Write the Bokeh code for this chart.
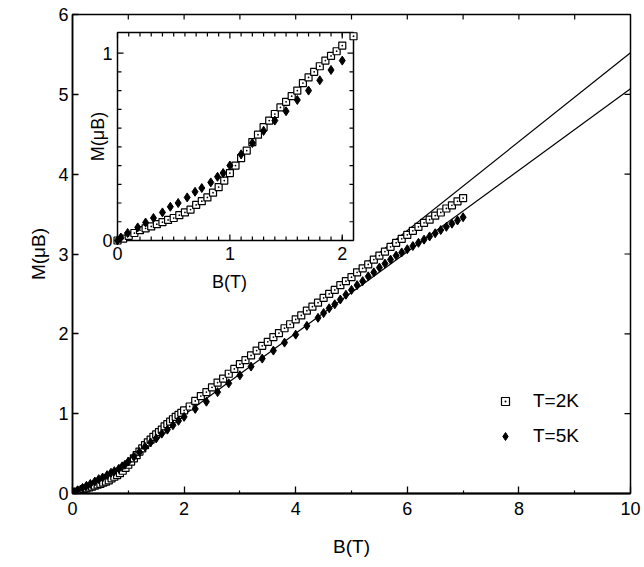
import numpy as np
from bokeh.plotting import figure
from bokeh.models import Range1d, FixedTicker, Legend, LegendItem
from bokeh.embed import file_html
from bokeh.resources import INLINE
from bokeh.core.properties import value

# ---------------------------------------------------------------------------
# Magnetization M (μB) versus applied field B (T)
# ---------------------------------------------------------------------------
# T = 2 K, low-field part (also shown in the inset)
b_2k_low = [0.00, 0.05, 0.10, 0.15, 0.20, 0.25, 0.30, 0.35, 0.40, 0.45,
            0.50, 0.55, 0.60, 0.65, 0.70, 0.75, 0.80, 0.85, 0.90, 0.95,
            1.00, 1.05, 1.10, 1.15, 1.20, 1.25, 1.30, 1.35, 1.40, 1.45,
            1.50, 1.55, 1.60, 1.65, 1.70, 1.75, 1.80, 1.85, 1.90, 1.95,
            2.00, 2.10]
m_2k_low = [0.000, 0.010, 0.025, 0.040, 0.055, 0.065, 0.075, 0.087, 0.098, 0.110,
            0.120, 0.135, 0.150, 0.165, 0.190, 0.210, 0.230, 0.255, 0.285, 0.320,
            0.360, 0.400, 0.440, 0.480, 0.525, 0.565, 0.605, 0.640, 0.675, 0.710,
            0.740, 0.770, 0.800, 0.840, 0.870, 0.900, 0.930, 0.960, 0.985, 1.010,
            1.040, 1.090]

# T = 2 K, high-field part
b_2k_high = [2.2, 2.3, 2.4, 2.5, 2.6, 2.7, 2.8, 2.9, 3.0,
             3.1, 3.2, 3.3, 3.4, 3.5, 3.6, 3.7, 3.8, 3.9, 4.0,
             4.1, 4.2, 4.3, 4.4, 4.5, 4.6, 4.7, 4.8, 4.9, 5.0,
             5.1, 5.2, 5.3, 5.4, 5.5, 5.6, 5.7, 5.8, 5.9, 6.0,
             6.1, 6.2, 6.3, 6.4, 6.5, 6.6, 6.7, 6.8, 6.9, 7.0]
m_2k_high = [1.16, 1.22, 1.27, 1.33, 1.39, 1.44, 1.50, 1.56, 1.62,
             1.67, 1.73, 1.79, 1.85, 1.90, 1.96, 2.01, 2.07, 2.12, 2.18,
             2.23, 2.29, 2.34, 2.39, 2.45, 2.50, 2.55, 2.61, 2.66, 2.71,
             2.77, 2.82, 2.87, 2.93, 2.98, 3.03, 3.09, 3.14, 3.19, 3.24,
             3.29, 3.34, 3.39, 3.43, 3.48, 3.52, 3.57, 3.61, 3.66, 3.70]

# T = 5 K, low-field part (also shown in the inset)
b_5k_low = [0.00, 0.03, 0.09, 0.18, 0.25, 0.32, 0.40, 0.47, 0.54, 0.62,
            0.69, 0.75, 0.83, 0.89, 0.94, 1.00, 1.10, 1.20, 1.30, 1.40,
            1.50, 1.60, 1.70, 1.80, 1.90, 2.00]
m_5k_low = [0.000, 0.016, 0.040, 0.070, 0.096, 0.120, 0.150, 0.180, 0.200, 0.230,
            0.260, 0.280, 0.310, 0.340, 0.360, 0.400, 0.460, 0.520, 0.585, 0.640,
            0.690, 0.750, 0.800, 0.855, 0.910, 0.960]

# T = 5 K, high-field part
b_5k_high = [2.2, 2.4, 2.6, 2.8, 3.0, 3.2, 3.4, 3.6, 3.8, 4.0, 4.2, 4.4,
             4.5, 4.6, 4.7, 4.8, 4.9, 5.0, 5.1, 5.2, 5.3, 5.4,
             5.5, 5.6, 5.7, 5.8, 5.9, 6.0, 6.1, 6.2, 6.3, 6.4,
             6.5, 6.6, 6.7, 6.8, 6.9, 7.0]
m_5k_high = [1.06, 1.15, 1.27, 1.38, 1.48, 1.59, 1.69, 1.79, 1.89, 1.99, 2.10, 2.20,
             2.26, 2.32, 2.37, 2.43, 2.49, 2.55, 2.61, 2.66, 2.72, 2.77,
             2.83, 2.88, 2.93, 2.98, 3.02, 3.06, 3.10, 3.14, 3.18, 3.22,
             3.26, 3.30, 3.34, 3.38, 3.42, 3.46]

# Linear high-field fits, extrapolated to 10 T
fit_b = [1.5, 10.0]
fit_2k = [0.79, 5.52]
fit_5k = [0.73, 5.07]

# Axis ticks
x_major = [0, 2, 4, 6, 8, 10]
x_minor = [1, 3, 5, 7, 9]
x_top = [1, 2, 3, 4, 5, 6, 7, 8, 9]
y_major = [0, 1, 2, 3, 4, 5, 6]
y_right = [1, 2, 3, 4, 5]

# Inset axes
inset_x_lim = [0.0, 2.1]
inset_y_lim = [0.0, 1.11]
inset_x_major = [0, 1, 2]
inset_x_minor = [0.1, 0.2, 0.3, 0.4, 0.5, 0.6, 0.7, 0.8, 0.9,
                 1.1, 1.2, 1.3, 1.4, 1.5, 1.6, 1.7, 1.8, 1.9, 2.0]
inset_y_major = [0, 1]
inset_y_minor = [0.1, 0.2, 0.3, 0.4, 0.5, 0.6, 0.7, 0.8, 0.9]

# ---------------------------------------------------------------------------
FONT = "Liberation Sans"
W, H = 644, 567
FL, FR, FT, FB = 72, 630, 14, 493          # main frame edges (px)
IL, IR, IT, IB = 117, 353, 32, 240         # inset box edges (px)

p = figure(width=W, height=H, x_range=Range1d(0, 10), y_range=Range1d(0, 6),
           output_backend="svg", toolbar_location=None,
           min_border_left=FL, min_border_right=W - FR,
           min_border_top=FT, min_border_bottom=H - FB)
p.xgrid.visible = False
p.ygrid.visible = False
p.outline_line_color = "black"
p.outline_line_width = 1.5
p.background_fill_color = "white"
p.border_fill_color = "white"

# bottom / left axes
xa = p.xaxis[0]
xa.ticker = FixedTicker(ticks=x_major, minor_ticks=x_minor)
ya = p.yaxis[0]
ya.ticker = FixedTicker(ticks=y_major)
for ax in (xa, ya):
    ax.axis_line_color = "black"
    ax.axis_line_width = 1.5
    ax.major_tick_line_color = "black"
    ax.major_tick_line_width = 1.3
    ax.major_tick_out = 0
    ax.minor_tick_out = 0
    ax.major_label_text_font = FONT
    ax.major_label_text_font_size = "18px"
    ax.major_label_text_color = "black"
    ax.axis_label_text_font = FONT
    ax.axis_label_text_font_size = "19px"
    ax.axis_label_text_font_style = "normal"
    ax.axis_label_text_color = "black"
xa.axis_line_width = 2
xa.major_tick_in = 7
xa.minor_tick_in = 3
xa.minor_tick_line_color = "black"
xa.minor_tick_line_width = 1.2
xa.major_label_standoff = 8
xa.axis_label = "B(T)"
xa.axis_label_standoff = 18
ya.major_tick_in = 6
ya.minor_tick_line_color = None
ya.major_label_standoff = 4
ya.axis_label = "M(μB)"
ya.axis_label_standoff = 6

# mirrored ticks along the top and right edges of the frame
p.ray(x=x_top, y=[6] * len(x_top), length=5, length_units="screen",
      angle=-np.pi / 2, line_color="black", line_width=1.2)
p.ray(x=[10] * len(y_right), y=y_right, length=6, length_units="screen",
      angle=np.pi, line_color="black", line_width=1.2)

# main data
b_2k = b_2k_low + b_2k_high
m_2k = m_2k_low + m_2k_high
b_5k = b_5k_low + b_5k_high
m_5k = m_5k_low + m_5k_high

p.line(fit_b, fit_2k, line_color="black", line_width=1.2)
p.line(fit_b, fit_5k, line_color="black", line_width=1.2)
r2 = p.scatter(b_2k, m_2k, marker="square_dot", size=7, line_color="black",
               fill_color="white", line_width=1.2)
r5 = p.scatter(b_5k, m_5k, marker="diamond", size=9, line_color="black",
               fill_color="black")

legend = Legend(items=[LegendItem(label="T=2K", renderers=[r2]),
                       LegendItem(label="T=5K", renderers=[r5])],
                location=(423, 46), orientation="vertical",
                border_line_color=None, background_fill_alpha=0,
                padding=0, margin=0, spacing=13,
                glyph_width=20, glyph_height=20, label_height=20,
                label_standoff=18, label_text_font=FONT,
                label_text_font_size="19px", label_text_color="black")
p.add_layout(legend, "center")

# ---------------------------------------------------------------------------
# Inset: the low-field region, drawn on its own ranges inside the frame
# ---------------------------------------------------------------------------
sx = (IR - IL) / (inset_x_lim[1] - inset_x_lim[0])     # px per tesla
sy = (IB - IT) / (inset_y_lim[1] - inset_y_lim[0])     # px per μB
ix0 = inset_x_lim[0] - (IL - FL) / sx
ix1 = inset_x_lim[1] + (FR - IR) / sx
iy0 = inset_y_lim[0] - (FB - IB) / sy
iy1 = inset_y_lim[1] + (IT - FT) / sy
p.extra_x_ranges = {"ix": Range1d(ix0, ix1)}
p.extra_y_ranges = {"iy": Range1d(iy0, iy1)}
ik = dict(x_range_name="ix", y_range_name="iy")

p.quad(left=[inset_x_lim[0]], right=[inset_x_lim[1]],
       bottom=[inset_y_lim[0]], top=[inset_y_lim[1]],
       fill_color="white", line_color="black", line_width=1.5, **ik)

def ticks(xs, ys, length, angle):
    p.ray(x=xs, y=ys, length=length, length_units="screen", angle=angle,
          line_color="black", line_width=1.2, **ik)

x0, x1 = inset_x_lim
y0, y1 = inset_y_lim
ticks(inset_x_major, [y0] * len(inset_x_major), 6, np.pi / 2)
ticks(inset_x_minor, [y0] * len(inset_x_minor), 4, np.pi / 2)
ticks(inset_x_major, [y1] * len(inset_x_major), 6, -np.pi / 2)
ticks(inset_x_minor, [y1] * len(inset_x_minor), 4, -np.pi / 2)
ticks([x0] * len(inset_y_major), inset_y_major, 6, 0)
ticks([x0] * len(inset_y_minor), inset_y_minor, 4, 0)
ticks([x1] * len(inset_y_major), inset_y_major, 6, np.pi)
ticks([x1] * len(inset_y_minor), inset_y_minor, 4, np.pi)

p.scatter(b_2k_low, m_2k_low, marker="square_dot", size=7, line_color="black",
          fill_color="white", line_width=1.2, **ik)
p.scatter(b_5k_low, m_5k_low, marker="diamond", size=9, line_color="black",
          fill_color="black", **ik)

txt = dict(text_font=value(FONT), text_font_size="18px", text_color="black", **ik)
p.text(x=inset_x_major, y=[y0 - 13 / sy] * len(inset_x_major),
       text=[str(t) for t in inset_x_major],
       text_align="center", text_baseline="middle", **txt)
p.text(x=[x0 - 5 / sx] * len(inset_y_major), y=inset_y_major,
       text=[str(t) for t in inset_y_major],
       text_align="right", text_baseline="middle", **txt)
p.text(x=[(x0 + x1) / 2 - 6 / sx], y=[y0 - 41 / sy], text=["B(T)"],
       text_align="center", text_baseline="middle", **txt)
p.text(x=[x0 - 20 / sx], y=[(y0 + y1) / 2], text=["M(μB)"], angle=np.pi / 2,
       text_align="center", text_baseline="middle", **txt)

open("out.html", "w").write(file_html(p, INLINE))
